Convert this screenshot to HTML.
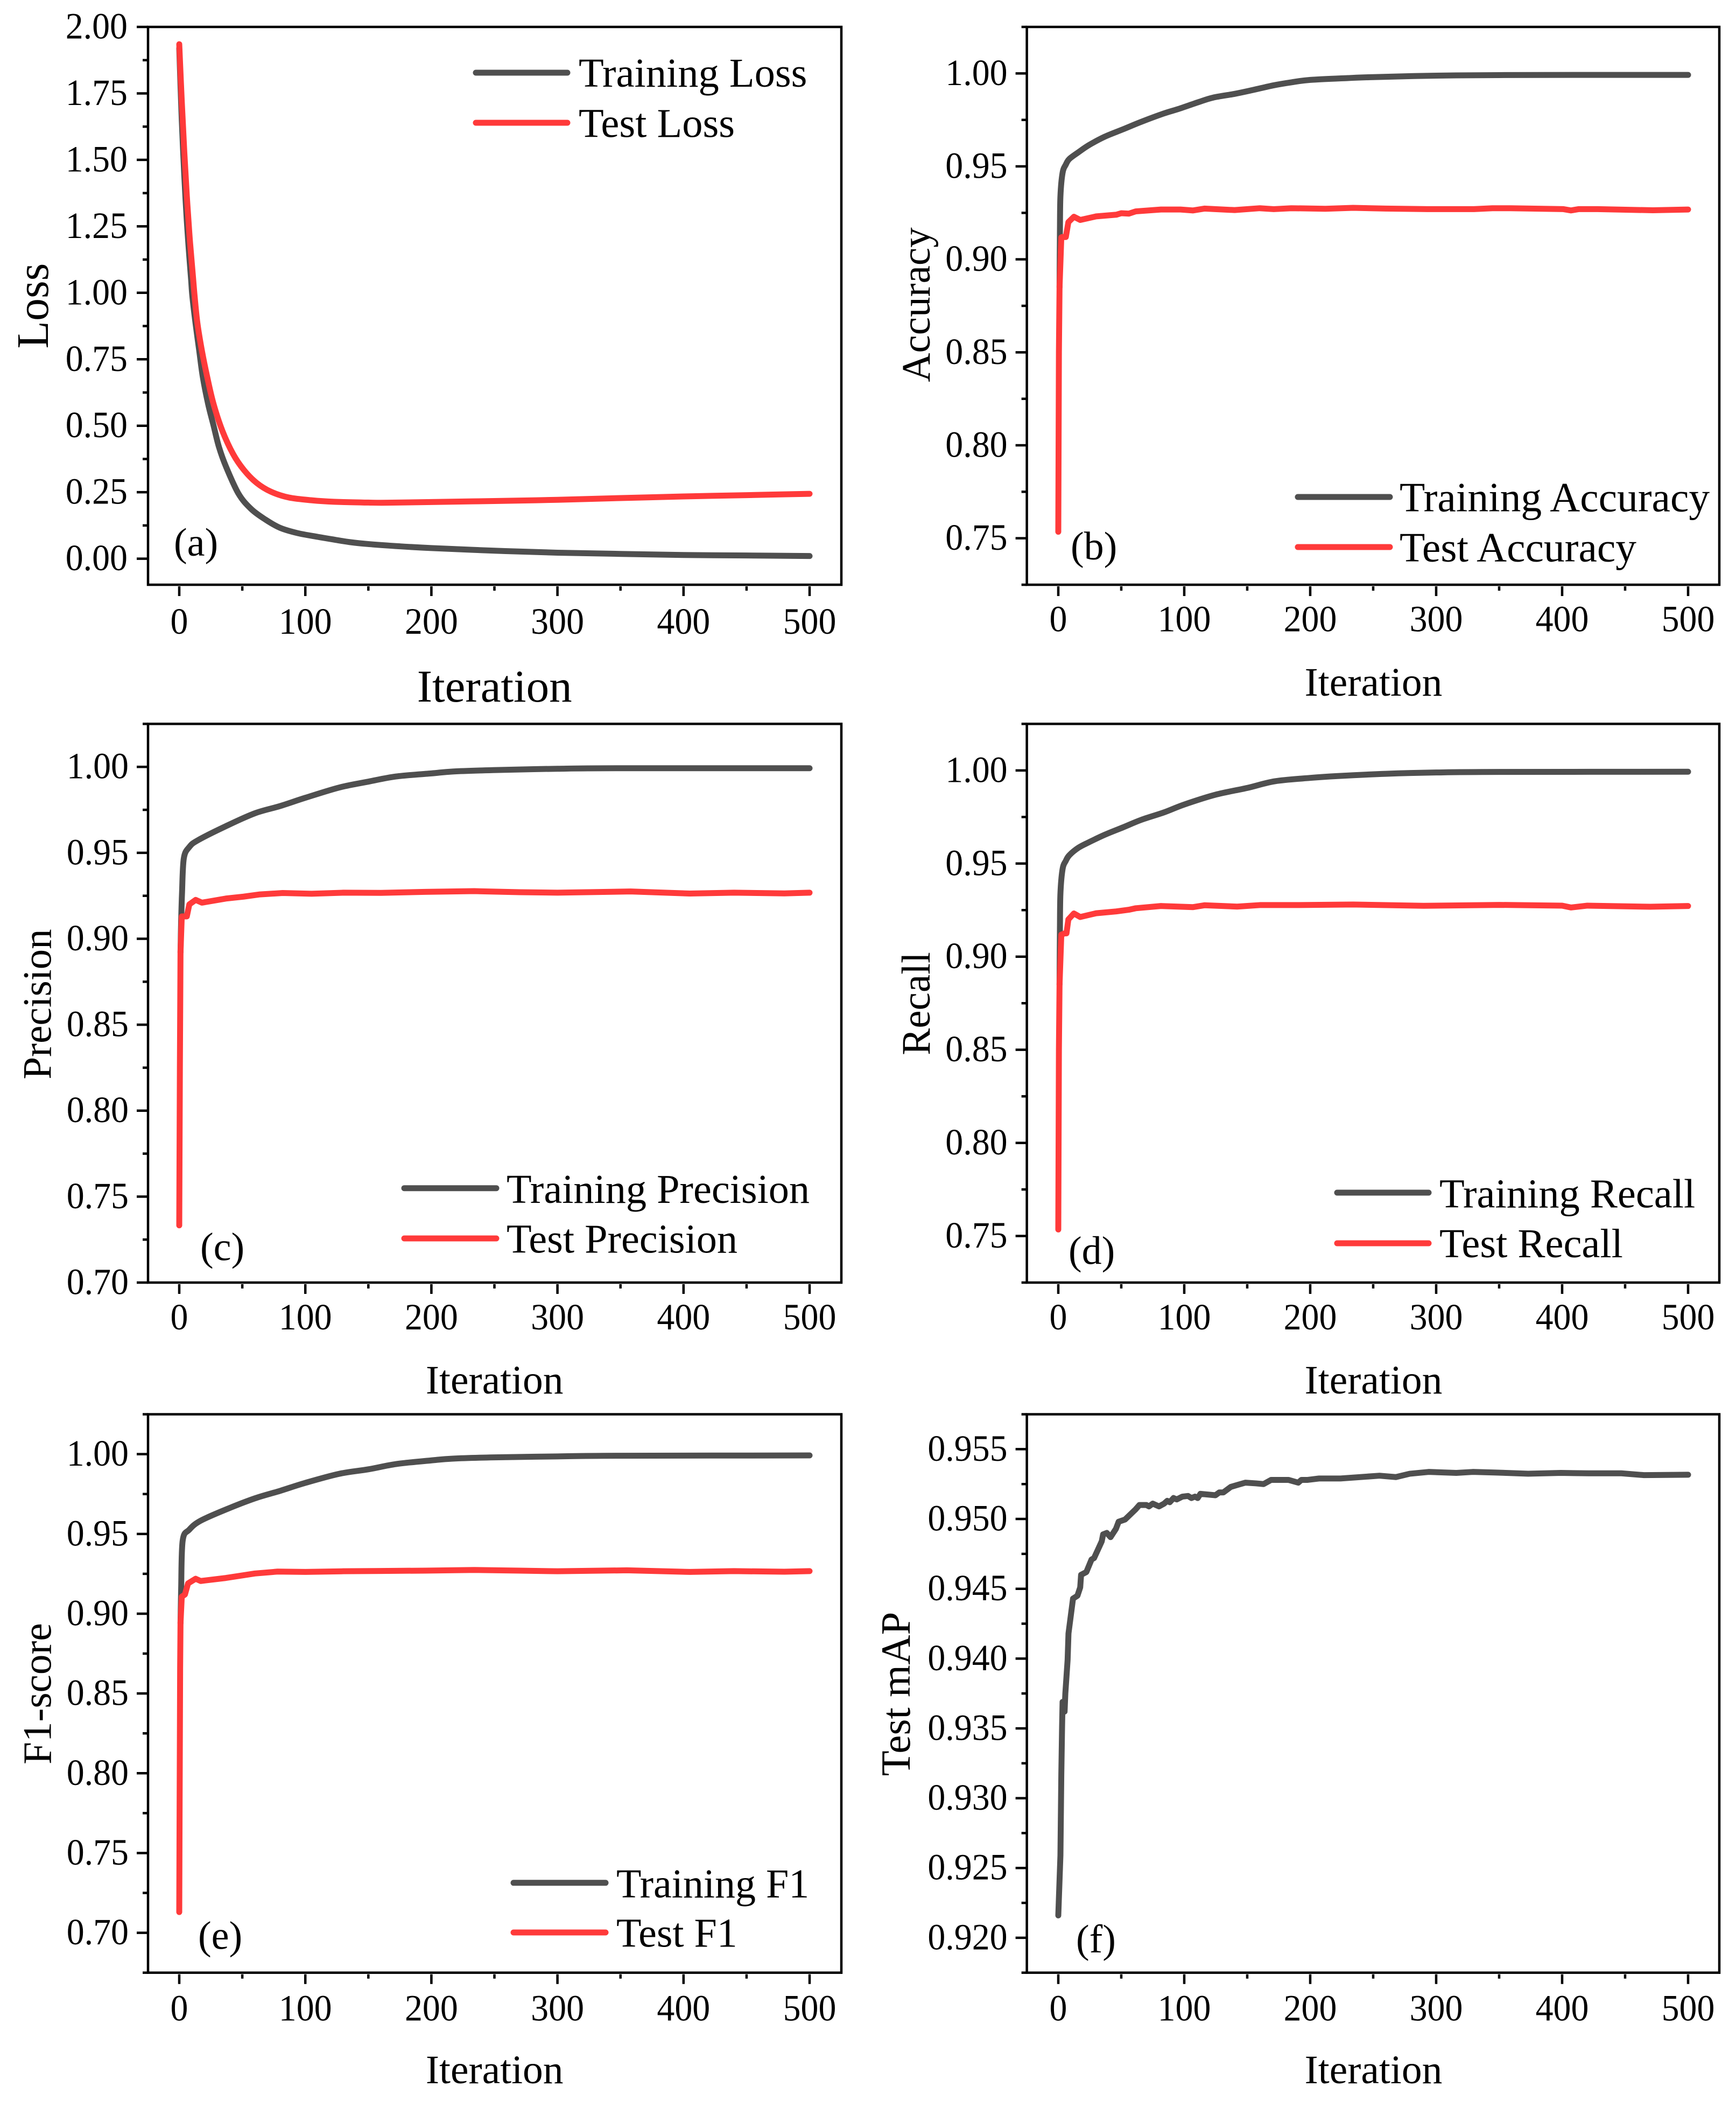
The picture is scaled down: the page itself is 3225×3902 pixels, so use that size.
<!DOCTYPE html>
<html lang="en">
<head>
<meta charset="utf-8">
<title>Training and test metric curves</title>
<style>
html,body{margin:0;padding:0;background:#fff;}
svg{display:block;}
text{font-family:"Liberation Serif","Times New Roman",serif;fill:#000;}
</style>
</head>
<body>
<svg id="figure" xmlns="http://www.w3.org/2000/svg" width="3225" height="3902" viewBox="0 0 3225 3902"></svg>
<script>
// ---- shared tick labels ----
const xTickValues = [0, 100, 200, 300, 400, 500];
const xMinorValues = [50, 150, 250, 350, 450];
const lossTicks = ["0.00", "0.25", "0.50", "0.75", "1.00", "1.25", "1.50", "1.75", "2.00"];
const lossMinor = [0.125, 0.375, 0.625, 0.875, 1.125, 1.375, 1.625, 1.875];
const scoreTicks75 = ["0.75", "0.80", "0.85", "0.90", "0.95", "1.00"];
const scoreMinor75 = [0.725, 0.775, 0.825, 0.875, 0.925, 0.975, 1.025];
const scoreTicks70 = ["0.70", "0.75", "0.80", "0.85", "0.90", "0.95", "1.00"];
const scoreMinor70 = [0.725, 0.775, 0.825, 0.875, 0.925, 0.975, 1.025];
const scoreMinor65 = [0.675, 0.725, 0.775, 0.825, 0.875, 0.925, 0.975, 1.025];
const mapTicks = ["0.920", "0.925", "0.930", "0.935", "0.940", "0.945", "0.950", "0.955"];
const mapMinor = [0.9175, 0.9225, 0.9275, 0.9325, 0.9375, 0.9425, 0.9475, 0.9525, 0.9575];

// ---- (a) loss ----
const trainLossIter = [0, 1, 2, 3, 4, 5, 6, 7, 8, 9.4, 10.4, 12.9, 15.8, 18.7, 22.9, 27.2, 31.5, 37.1, 47, 57, 68.4, 80, 94, 110, 122.5, 135, 150, 175, 200, 250, 300, 350, 400, 450, 500];
const trainLossValues = [1.92, 1.78, 1.65, 1.54, 1.44, 1.35, 1.27, 1.2, 1.135, 1.05, 0.987, 0.886, 0.784, 0.683, 0.582, 0.501, 0.42, 0.346, 0.2445, 0.187, 0.147, 0.116, 0.096, 0.082, 0.072, 0.0625, 0.055, 0.0465, 0.04, 0.03, 0.0225, 0.018, 0.014, 0.012, 0.01];
const testLossIter = [0, 2, 4, 6, 8, 9, 10.8, 12.2, 14.4, 17.9, 22.2, 27.2, 34.2, 42.8, 51.4, 61.4, 72.7, 87, 105.5, 122.5, 150, 165, 200, 250, 300, 350, 400, 450, 500];
const testLossValues = [1.935, 1.72, 1.53, 1.365, 1.225, 1.165, 1.065, 0.987, 0.886, 0.784, 0.683, 0.582, 0.481, 0.393, 0.333, 0.285, 0.252, 0.23, 0.2195, 0.2142, 0.211, 0.2105, 0.213, 0.217, 0.2215, 0.228, 0.234, 0.239, 0.244];

// ---- (b) accuracy ----
const trainAccIter = [1, 1.3, 1.7, 3.4, 6, 8.8, 16, 24.5, 37, 51.6, 66, 84, 96, 111.5, 123, 140, 154, 171, 185, 200, 230, 250, 300, 350, 420, 500];
const trainAccValues = [0.885, 0.915, 0.934, 0.9465, 0.951, 0.954, 0.9576, 0.9615, 0.966, 0.97, 0.974, 0.9785, 0.981, 0.9846, 0.987, 0.989, 0.991, 0.9936, 0.9952, 0.9965, 0.9975, 0.998, 0.9988, 0.9991, 0.9992, 0.9992];
const testAccIter = [0, 0.5, 1, 2.4, 3, 6, 8, 12.4, 17.4, 30, 46, 50, 56, 61.5, 81.5, 97, 107, 116, 140, 160, 171, 185, 212, 234, 260, 293, 330, 344.6, 359, 401, 407, 413, 428, 472, 500];
const testAccValues = [0.7535, 0.85, 0.885, 0.9118, 0.912, 0.912, 0.92, 0.9229, 0.9212, 0.9231, 0.924, 0.9248, 0.9246, 0.9258, 0.9268, 0.9268, 0.9263, 0.9273, 0.9265, 0.9275, 0.927, 0.9275, 0.9272, 0.9277, 0.9273, 0.927, 0.927, 0.9275, 0.9275, 0.927, 0.9263, 0.927, 0.927, 0.9264, 0.9268];

// ---- (c) precision ----
const trainPrecIter = [1, 1.5, 2.2, 3.6, 8, 15, 37, 60, 80, 100, 127, 150, 172, 200, 217, 249, 300, 350, 500];
const trainPrecValues = [0.892, 0.91, 0.9266, 0.9467, 0.9534, 0.9574, 0.9655, 0.973, 0.9772, 0.982, 0.988, 0.9914, 0.9944, 0.9962, 0.9973, 0.9981, 0.9989, 0.9992, 0.9992];
const testPrecIter = [0, 0.5, 1, 2, 6, 8, 13, 18, 37, 51, 64, 82, 105, 130, 160, 195, 234, 270, 300, 358, 405, 440, 480, 500];
const testPrecValues = [0.7333, 0.825, 0.892, 0.913, 0.913, 0.92, 0.9226, 0.921, 0.9234, 0.9245, 0.9258, 0.9266, 0.9262, 0.9268, 0.9267, 0.9273, 0.9277, 0.9271, 0.9268, 0.9275, 0.9263, 0.9268, 0.9264, 0.9268];

// ---- (d) recall ----
const trainRecIter = [1, 1.3, 1.7, 3.4, 6, 8.8, 16, 24.5, 37, 51.6, 66, 84, 100, 125, 150, 172, 200, 222, 260, 300, 350, 500];
const trainRecValues = [0.885, 0.915, 0.934, 0.947, 0.9515, 0.9545, 0.9585, 0.9615, 0.9655, 0.9695, 0.9735, 0.9775, 0.9817, 0.987, 0.9906, 0.9942, 0.996, 0.997, 0.9982, 0.9989, 0.9992, 0.9993];
const testRecIter = [0, 0.5, 1, 2.4, 5, 6.5, 8, 12.4, 17.4, 30, 46, 56, 61.5, 81.5, 107, 116, 142, 160, 190, 234, 290, 350, 400, 407, 420, 470, 500];
const testRecValues = [0.7535, 0.85, 0.885, 0.9118, 0.9125, 0.9125, 0.92, 0.9232, 0.9213, 0.9233, 0.9243, 0.9252, 0.926, 0.9272, 0.9266, 0.9276, 0.9269, 0.9277, 0.9277, 0.928, 0.9273, 0.9278, 0.9274, 0.9264, 0.9274, 0.9268, 0.9272];

// ---- (e) F1 ----
const trainF1Iter = [1, 1.5, 2.7, 8, 17, 37, 60, 80, 100, 127, 150, 172, 200, 217, 250, 300, 350, 500];
const trainF1Values = [0.894, 0.915, 0.9457, 0.9527, 0.9583, 0.9653, 0.9723, 0.977, 0.982, 0.9877, 0.9905, 0.9938, 0.9961, 0.9972, 0.998, 0.9986, 0.999, 0.9992];
const testF1Iter = [0, 0.3, 0.7, 1, 2, 4.5, 7, 13, 17, 37, 60, 78, 100, 130, 160, 195, 234, 270, 300, 355, 405, 440, 480, 500];
const testF1Values = [0.713, 0.782, 0.866, 0.894, 0.9107, 0.912, 0.919, 0.9219, 0.9205, 0.9224, 0.9252, 0.9264, 0.9262, 0.9266, 0.9268, 0.927, 0.9274, 0.927, 0.9266, 0.9272, 0.9262, 0.9267, 0.9263, 0.9267];

// ---- (f) test mAP ----
const mapIter = [0, 1.7, 2.4, 3, 3.4, 5, 5.6, 7.4, 8.1, 11.7, 15.2, 17.4, 18.1, 22.3, 26.4, 28.4, 34.5, 35.6, 38.5, 41.5, 45.8, 47.9, 53, 61.5, 64.4, 70, 72, 75, 80, 84, 86.5, 88.5, 91.5, 94, 98.5, 103, 105.7, 108.5, 110.7, 112.8, 124.8, 127.8, 131, 137, 142.7, 148.5, 157, 163, 169, 178, 182.7, 190.5, 193, 198, 207, 224, 255, 268, 279, 294, 316, 329, 346, 373, 399, 421, 447, 465, 500];
const mapValues = [0.9216, 0.9259, 0.9317, 0.9351, 0.9369, 0.9362, 0.9375, 0.9399, 0.9418, 0.9443, 0.9445, 0.9451, 0.946, 0.9462, 0.9471, 0.9472, 0.9484, 0.9489, 0.949, 0.9487, 0.9493, 0.9498, 0.94996, 0.9507, 0.951, 0.951, 0.9509, 0.9511, 0.9509, 0.9511, 0.9513, 0.9512, 0.9515, 0.9514, 0.9516, 0.95165, 0.9515, 0.9516, 0.9515, 0.9518, 0.9517, 0.9519, 0.9519, 0.9523, 0.95245, 0.9526, 0.95255, 0.9525, 0.9528, 0.9528, 0.9528, 0.9526, 0.9528, 0.9528, 0.9529, 0.9529, 0.9531, 0.953, 0.95324, 0.95337, 0.9533, 0.95337, 0.95333, 0.95324, 0.9533, 0.95327, 0.95327, 0.95314, 0.95317];

const DARK = "#4f4f4f";
const RED = "#ff3a3a";
const NS = "http://www.w3.org/2000/svg";
const TICK_SX = 0.955;
const root = document.getElementById("figure");

function makeAxisFn(dMin, dMax, pMin, pMax) {
  return function (v) { return pMin + (v - dMin) / (dMax - dMin) * (pMax - pMin); };
}

function addText(parent, str, x, y, size, name, anchor, rotate, sx) {
  const el = document.createElementNS(NS, "text");
  
  
  el.setAttribute("font-size", size);
  el.setAttribute("text-anchor", anchor);
  if (rotate) {
    el.setAttribute("transform", "translate(" + x + " " + y + ") rotate(-90)");
  } else if (sx) {
    el.setAttribute("transform", "translate(" + x + " " + y + ") scale(" + sx + " 1)");
  } else {
    el.setAttribute("x", x);
    el.setAttribute("y", y);
  }
  el.textContent = str;
  parent.appendChild(el);
  return el;
}

function addRule(parent, x1, y1, x2, y2, width, color, name, cap) {
  const el = document.createElementNS(NS, "line");
  
  
  el.setAttribute("x1", x1);
  el.setAttribute("y1", y1);
  el.setAttribute("x2", x2);
  el.setAttribute("y2", y2);
  el.setAttribute("stroke", color);
  el.setAttribute("stroke-width", width);
  if (cap) el.setAttribute("stroke-linecap", cap);
  parent.appendChild(el);
  return el;
}

function addSeries(parent, xs, ys, xFn, yFn, color, name, smooth) {
  const el = document.createElementNS(NS, "path");
  
  
  const px = xs.map(xFn);
  const py = ys.map(yFn);
  let d = "M" + px[0].toFixed(2) + " " + py[0].toFixed(2);
  for (let i = 1; i < px.length; i++) {
    if (smooth) {
      const a = Math.max(i - 2, 0);
      const b = Math.min(i + 1, px.length - 1);
      const c1x = px[i - 1] + (px[i] - px[a]) / 6;
      const c1y = py[i - 1] + (py[i] - py[a]) / 6;
      const c2x = px[i] - (px[b] - px[i - 1]) / 6;
      const c2y = py[i] - (py[b] - py[i - 1]) / 6;
      d += "C" + c1x.toFixed(2) + " " + c1y.toFixed(2) + " " + c2x.toFixed(2) + " " + c2y.toFixed(2) + " " + px[i].toFixed(2) + " " + py[i].toFixed(2);
    } else {
      d += "L" + px[i].toFixed(2) + " " + py[i].toFixed(2);
    }
  }
  el.setAttribute("d", d);
  el.setAttribute("fill", "none");
  el.setAttribute("stroke", color);
  el.setAttribute("stroke-width", 11);
  el.setAttribute("stroke-linejoin", "round");
  el.setAttribute("stroke-linecap", "round");
  parent.appendChild(el);
  return el;
}

function drawPanel(p) {
  const g = document.createElementNS(NS, "g");
  
  
  root.appendChild(g);

  const xFn = makeAxisFn(0, 500, p.x0, p.x500);
  const yFn = makeAxisFn(p.vMin, p.vMax, p.bottom, p.top);

  // series
  p.series.forEach(function (s) {
    addSeries(g, s.x, s.y, xFn, yFn, s.color, s.name, s.smooth);
  });

  // frame
  const frame = document.createElementNS(NS, "rect");
  
  
  frame.setAttribute("x", p.left);
  frame.setAttribute("y", p.top);
  frame.setAttribute("width", p.right - p.left);
  frame.setAttribute("height", p.bottom - p.top);
  frame.setAttribute("fill", "none");
  frame.setAttribute("stroke", "#000");
  frame.setAttribute("stroke-width", 4.5);
  g.appendChild(frame);

  // y ticks
  p.yTicks.forEach(function (t) {
    const py = yFn(parseFloat(t));
    addRule(g, p.left - 21, py, p.left, py, 4.5, "#000", "y-major-tick");
    addText(g, t, p.left - p.labelGap, py + 21.5, p.tickSize, "y-tick-label", "end", false, TICK_SX);
  });
  p.yMinor.forEach(function (v) {
    const py = yFn(v);
    addRule(g, p.left - 10, py, p.left, py, 4.5, "#000", "y-minor-tick");
  });

  // x ticks
  xTickValues.forEach(function (v) {
    const px = xFn(v);
    addRule(g, px, p.bottom + 3, px, p.bottom + 21, 4.5, "#000", "x-major-tick");
    addText(g, String(v), px, p.xLabelY, p.tickSize, "x-tick-label", "middle", false, TICK_SX);
  });
  xMinorValues.forEach(function (v) {
    const px = xFn(v);
    addRule(g, px, p.bottom + 3, px, p.bottom + 11, 4.5, "#000", "x-minor-tick");
  });

  // titles
  addText(g, "Iteration", p.xTitleX, p.xTitleY, p.xTitleSize, "x-axis-title", "middle");
  addText(g, p.yTitle, p.yTitleX, p.yTitleY, p.yTitleSize, "y-axis-title", "middle", true);

  // panel tag
  addText(g, p.tag, p.tagX, p.tagY, 74, "panel-label", "start");

  // legend
  p.legend.forEach(function (e) {
    addRule(g, e.x1, e.y, e.x2, e.y, 11, e.color, "legend-line", "round");
    addText(g, e.label, e.tx, e.ty, p.legendSize, "legend-label", "start");
  });
}

drawPanel({
  id: "a-loss", left: 275, right: 1563, top: 50, bottom: 1086, x0: 333, x500: 1504,
  vMin: -0.098, vMax: 2.0, yTicks: lossTicks, yMinor: lossMinor, tickSize: 69, labelGap: 38,
  xLabelY: 1177, xTitleX: 918.7, xTitleY: 1303, xTitleSize: 85,
  yTitle: "Loss", yTitleX: 89, yTitleY: 568, yTitleSize: 84,
  tag: "(a)", tagX: 323, tagY: 1032, legendSize: 76.5,
  series: [
    { x: trainLossIter, y: trainLossValues, color: DARK, name: "training-loss-line", smooth: true },
    { x: testLossIter, y: testLossValues, color: RED, name: "test-loss-line", smooth: true }
  ],
  legend: [
    { x1: 884, x2: 1054, y: 135, color: DARK, label: "Training Loss", tx: 1075, ty: 161 },
    { x1: 884, x2: 1054, y: 228, color: RED, label: "Test Loss", tx: 1075, ty: 254.5 }
  ]
});

drawPanel({
  id: "b-accuracy", left: 1907.6, right: 3194, top: 50, bottom: 1086, x0: 1966, x500: 3136,
  vMin: 0.725, vMax: 1.025, yTicks: scoreTicks75, yMinor: scoreMinor75, tickSize: 69, labelGap: 36,
  xLabelY: 1172.5, xTitleX: 2551.5, xTitleY: 1292, xTitleSize: 75.5,
  yTitle: "Accuracy", yTitleX: 1727, yTitleY: 566, yTitleSize: 75,
  tag: "(b)", tagX: 1989, tagY: 1039, legendSize: 77.5,
  series: [
    { x: trainAccIter, y: trainAccValues, color: DARK, name: "training-accuracy-line", smooth: true },
    { x: testAccIter, y: testAccValues, color: RED, name: "test-accuracy-line" }
  ],
  legend: [
    { x1: 2411, x2: 2582, y: 923, color: DARK, label: "Training Accuracy", tx: 2600, ty: 949.6 },
    { x1: 2411, x2: 2582, y: 1016, color: RED, label: "Test Accuracy", tx: 2600, ty: 1042.7 }
  ]
});

drawPanel({
  id: "c-precision", left: 275, right: 1563, top: 1344.4, bottom: 2382, x0: 333, x500: 1504,
  vMin: 0.70, vMax: 1.025, yTicks: scoreTicks70, yMinor: scoreMinor70, tickSize: 69, labelGap: 36,
  xLabelY: 2469, xTitleX: 918.7, xTitleY: 2588, xTitleSize: 75.5,
  yTitle: "Precision", yTitleX: 94.7, yTitleY: 1865, yTitleSize: 75,
  tag: "(c)", tagX: 372, tagY: 2340.6, legendSize: 76.3,
  series: [
    { x: trainPrecIter, y: trainPrecValues, color: DARK, name: "training-precision-line", smooth: true },
    { x: testPrecIter, y: testPrecValues, color: RED, name: "test-precision-line" }
  ],
  legend: [
    { x1: 751, x2: 922, y: 2206.7, color: DARK, label: "Training Precision", tx: 941, ty: 2234 },
    { x1: 751, x2: 922, y: 2300, color: RED, label: "Test Precision", tx: 941, ty: 2326.5 }
  ]
});

drawPanel({
  id: "d-recall", left: 1907.6, right: 3194, top: 1344.4, bottom: 2382, x0: 1966, x500: 3136,
  vMin: 0.725, vMax: 1.025, yTicks: scoreTicks75, yMinor: scoreMinor75, tickSize: 69, labelGap: 36,
  xLabelY: 2469, xTitleX: 2551.5, xTitleY: 2588, xTitleSize: 75.5,
  yTitle: "Recall", yTitleX: 1727, yTitleY: 1864, yTitleSize: 75,
  tag: "(d)", tagX: 1985, tagY: 2347.5, legendSize: 76.5,
  series: [
    { x: trainRecIter, y: trainRecValues, color: DARK, name: "training-recall-line", smooth: true },
    { x: testRecIter, y: testRecValues, color: RED, name: "test-recall-line" }
  ],
  legend: [
    { x1: 2484, x2: 2654, y: 2215, color: DARK, label: "Training Recall", tx: 2674, ty: 2242.7 },
    { x1: 2484, x2: 2654, y: 2309, color: RED, label: "Test Recall", tx: 2674, ty: 2335 }
  ]
});

drawPanel({
  id: "e-f1", left: 275, right: 1563, top: 2626.6, bottom: 3663.7, x0: 333, x500: 1504,
  vMin: 0.675, vMax: 1.025, yTicks: scoreTicks70, yMinor: scoreMinor65, tickSize: 69, labelGap: 36,
  xLabelY: 3752.6, xTitleX: 918.7, xTitleY: 3869, xTitleSize: 75.5,
  yTitle: "F1-score", yTitleX: 94.7, yTitleY: 3145.6, yTitleSize: 75,
  tag: "(e)", tagX: 368, tagY: 3619.7, legendSize: 76,
  series: [
    { x: trainF1Iter, y: trainF1Values, color: DARK, name: "training-f1-line", smooth: true },
    { x: testF1Iter, y: testF1Values, color: RED, name: "test-f1-line" }
  ],
  legend: [
    { x1: 954, x2: 1125, y: 3496.8, color: DARK, label: "Training F1", tx: 1145, ty: 3524 },
    { x1: 954, x2: 1125, y: 3589, color: RED, label: "Test F1", tx: 1145, ty: 3615.7 }
  ]
});

drawPanel({
  id: "f-map", left: 1907.6, right: 3194, top: 2626.6, bottom: 3663.7, x0: 1966, x500: 3136,
  vMin: 0.9175, vMax: 0.9575, yTicks: mapTicks, yMinor: mapMinor, tickSize: 69, labelGap: 36,
  xLabelY: 3752.6, xTitleX: 2551.5, xTitleY: 3869, xTitleSize: 75.5,
  yTitle: "Test mAP", yTitleX: 1690, yTitleY: 3146, yTitleSize: 77,
  tag: "(f)", tagX: 1999, tagY: 3626, legendSize: 76,
  series: [
    { x: mapIter, y: mapValues, color: DARK, name: "test-map-line" }
  ],
  legend: []
});
</script>
</body>
</html>
